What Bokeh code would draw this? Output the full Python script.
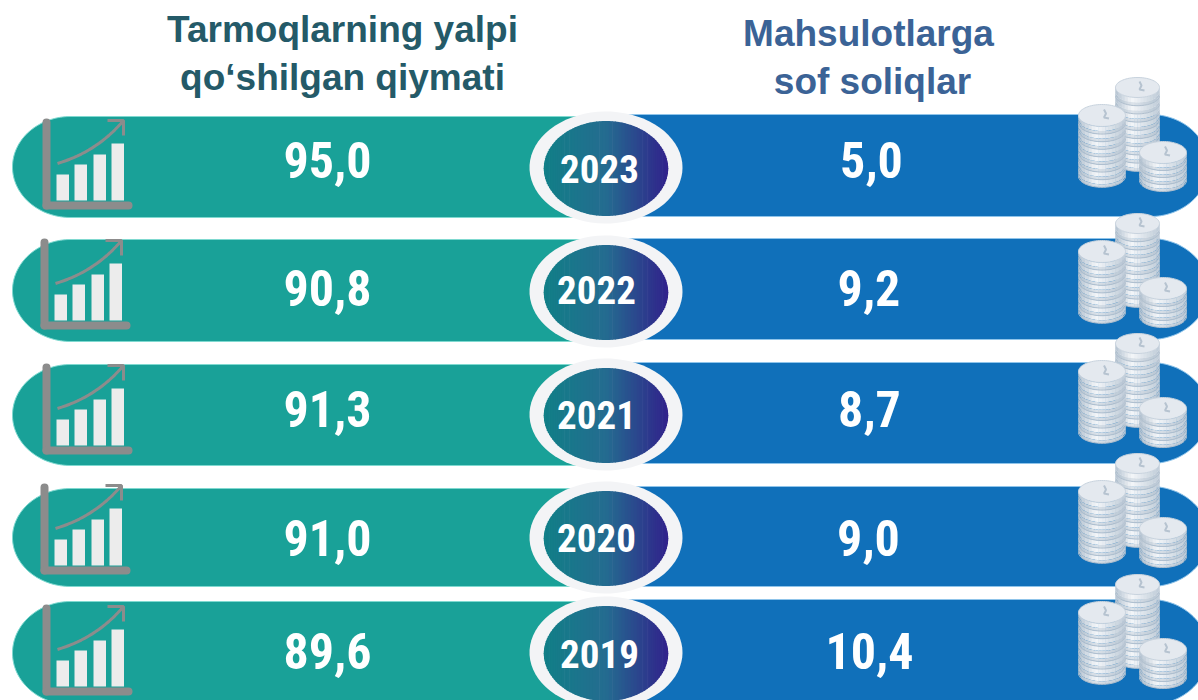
import numpy as np
from bokeh.plotting import figure
from bokeh.core.properties import value
from bokeh.embed import file_html
from bokeh.resources import INLINE

# ---- chart values
years = ["2023", "2022", "2021", "2020", "2019"]
gross_value_added = [95.0, 90.8, 91.3, 91.0, 89.6]
net_taxes = [5.0, 9.2, 8.7, 9.0, 10.4]
title_left = ["Tarmoqlarning yalpi", "qo‘shilgan qiymati"]
title_right = ["Mahsulotlarga", "sof soliqlar"]
bar_icon_heights = [26, 36, 46, 57]

# ---- layout (page pixels)
left_top = [116, 239, 364, 488, 601]
left_bot = [217, 341, 465, 586, 704]
right_top = [114, 238, 362, 486, 599]
right_bot = [216, 339, 463, 586, 704]
ring_cy = [167, 291, 414, 537, 652]
icon_x = [42, 40, 42, 40, 42]
icon_y = [119, 239, 364, 484, 605]
coin_y = [77, 213, 333, 453, 574]
val_mid = [159, 287, 408, 537, 650]
year_mid = [168, 289, 414, 537, 653]
year_x = [599, 596, 596, 596, 599]
right_x = [871, 868.5, 869, 868, 869]

TEAL, BLUE = "#19a198", "#1070ba"
FN = value("'Roboto Condensed', 'Open Sans Condensed', 'DejaVu Sans Condensed', Roboto")
FA = value("Liberation Sans")

p = figure(width=1198, height=700, x_range=(0, 1198), y_range=(700, 0),
           output_backend="svg", toolbar_location=None, min_border=0,
           background_fill_color="white", border_fill_color="white",
           outline_line_color=None)
p.axis.visible = False
p.grid.visible = False
p.min_border_left = p.min_border_right = p.min_border_top = p.min_border_bottom = 0


def ell(cx, cy, rx, ry, a0=0.0, a1=2 * np.pi, n=72):
    t = np.linspace(a0, a1, n)
    return cx + rx * np.cos(t), cy + ry * np.sin(t)


def mix(a, b, f):
    a = [int(a[i:i + 2], 16) for i in (1, 3, 5)]
    b = [int(b[i:i + 2], 16) for i in (1, 3, 5)]
    return "#%02x%02x%02x" % tuple(int(round(x + (y - x) * f)) for x, y in zip(a, b))


def coin_shade(u):
    if u < -0.25:
        return mix("#b4c2d0", "#f4f6f9", (u + 1) / 0.75)
    return mix("#f4f6f9", "#bfccd8", (u + 0.25) / 1.25)


def draw_stack(x0, x1, top, n, t, ry):
    cx, rx = (x0 + x1) / 2, (x1 - x0) / 2
    yc = top + ry
    edges = np.linspace(-1, 1, 15)
    xs, ys, cols = [], [], []
    for k in range(n - 1, -1, -1):
        y = yc + k * t
        for a, b in zip(edges[:-1], edges[1:]):
            sa, sb = np.sqrt(max(0, 1 - a * a)), np.sqrt(max(0, 1 - b * b))
            col = coin_shade((a + b) / 2)
            xa, xb = cx + a * rx - 0.25, cx + b * rx + 0.25
            xs.append([xa, xb, xb, xa])
            ys.append([y + ry * sa, y + ry * sb, y + ry * sb + t * 0.6, y + ry * sa + t * 0.6])
            cols.append(col)
            xs.append([xa, xb, xb, xa])
            ys.append([y + ry * sa + t * 0.6, y + ry * sb + t * 0.6, y + ry * sb + t, y + ry * sa + t])
            cols.append(mix(col, "#a4b5c6", 0.3))
    p.patches(xs, ys, fill_color=cols, line_color=None)
    ax, ay = [], []
    for k in range(n):
        x_, y_ = ell(cx, yc + k * t + t, rx, ry, 0.05, np.pi - 0.05, 24)
        ax.append(x_); ay.append(y_)
    p.multi_line(ax, ay, line_color="#b0bfce", line_width=1)
    tx, ty = ell(cx, yc, rx, ry)
    p.patch(tx, ty, fill_color="#e4e9ef", line_color="#c8d3de", line_width=1)
    p.line([cx + 2, cx + 4, cx + 2, cx + 7], [yc - 6, yc - 2, yc + 2, yc + 3],
           line_color="#b6c3d0", line_width=2)


# titles
for t1, cx, mid, col in [
    (title_left[0], 342, 29, "#245a68"), (title_left[1], 342, 77, "#245a68"),
    (title_right[0], 868, 33, "#3b6396"), (title_right[1], 872, 81, "#3b6396")]:
    p.text([cx], [mid], text=[t1], text_font=FA, text_font_style="bold",
           text_font_size="37px", text_color=col, text_align="center",
           text_baseline="middle")

# pills
for i in range(len(years)):
    T, B = left_top[i], left_bot[i]
    ex, ey = ell(70, (T + B) / 2, 58, (B - T) / 2, np.pi / 2, 3 * np.pi / 2)
    p.patch(np.r_[ex, 620, 620], np.r_[ey, T, B], fill_color=TEAL,
            line_color="#7fd9d0", line_width=1)
    T, B = right_top[i], right_bot[i]
    ex, ey = ell(1150, (T + B) / 2, 58, (B - T) / 2, -np.pi / 2, np.pi / 2)
    p.patch(np.r_[600, ex, 600], np.r_[T, ey, B], fill_color=BLUE,
            line_color="#8fc4ea", line_width=1)

# rings with a gradient oval
CX, RX, RY = 605.5, 62, 47.5
for i in range(len(years)):
    cy = ring_cy[i]
    rx_, ry_ = ell(CX, cy, 76.5, 56)
    p.patch(rx_, ry_, fill_color="#f3f4f6", line_color=None)
    edges = np.sin(np.linspace(-np.pi / 2, np.pi / 2, 61))
    xs, ys, c = [], [], []
    for a, d in zip(edges[:-1], edges[1:]):
        um = (a + d) / 2
        sa, sd = np.sqrt(max(0, 1 - a * a)), np.sqrt(max(0, 1 - d * d))
        f = (um + 1) / 2
        col = mix("#117f87", "#246c90", f / 0.5) if f < 0.5 else mix("#246c90", "#31228b", (f - 0.5) / 0.5)
        xa, xd = CX + a * RX - 0.3, CX + d * RX + 0.3
        xs.append([xa, xd, xd, xa])
        ys.append([cy + 1 - RY * sa, cy + 1 - RY * sd, cy + 1 + RY * sd, cy + 1 + RY * sa])
        c.append(col)
    p.patches(xs, ys, fill_color=c, line_color=None)

# icons
GR, BW = "#8c8c8c", "#ececec"
for i in range(len(years)):
    X, Y = icon_x[i], icon_y[i]
    base = Y + 81
    lefts = [X + 14, X + 32, X + 51, X + 69]
    p.quad(left=lefts, right=[v + 12.5 for v in lefts],
           top=[base - h for h in bar_icon_heights], bottom=[base] * 4,
           fill_color=BW, line_color=None)
    p.segment([X + 4], [Y + 3], [X + 4], [Y + 86], line_color=GR, line_width=8, line_cap="round")
    p.segment([X + 4], [Y + 86], [X + 86], [Y + 86], line_color=GR, line_width=8, line_cap="round")
    s = np.linspace(0, 1, 20)
    p.line((1 - s) ** 2 * (X + 15) + 2 * s * (1 - s) * (X + 55) + s ** 2 * (X + 81),
           (1 - s) ** 2 * (Y + 44) + 2 * s * (1 - s) * (Y + 32) + s ** 2 * (Y + 1),
           line_color=GR, line_width=3)
    p.line([X + 65, X + 81, X + 81], [Y + 1, Y + 1, Y + 16], line_color=GR, line_width=3)

# coins
for A in coin_y:
    draw_stack(1115, 1159, A, 9, 8.2, 10)
    draw_stack(1078, 1125, A + 27, 8, 7.6, 11)
    draw_stack(1139, 1186, A + 64, 4, 7.0, 11)

# values
fmt = lambda v: f"{v:.1f}".replace(".", ",")
p.text([327] * 5, val_mid, text=[fmt(v) for v in gross_value_added], text_font=FN,
       text_font_style="bold", text_font_size="50px", text_color="white",
       text_align="center", text_baseline="middle")
p.text(right_x, val_mid, text=[fmt(v) for v in net_taxes], text_font=FN,
       text_font_style="bold", text_font_size="50px", text_color="white",
       text_align="center", text_baseline="middle")
p.text(year_x, year_mid, text=years, text_font=FN, text_font_style="bold",
       text_font_size="39px", text_color="white", text_align="center",
       text_baseline="middle")

open("out.html", "w").write(file_html(p, INLINE))
